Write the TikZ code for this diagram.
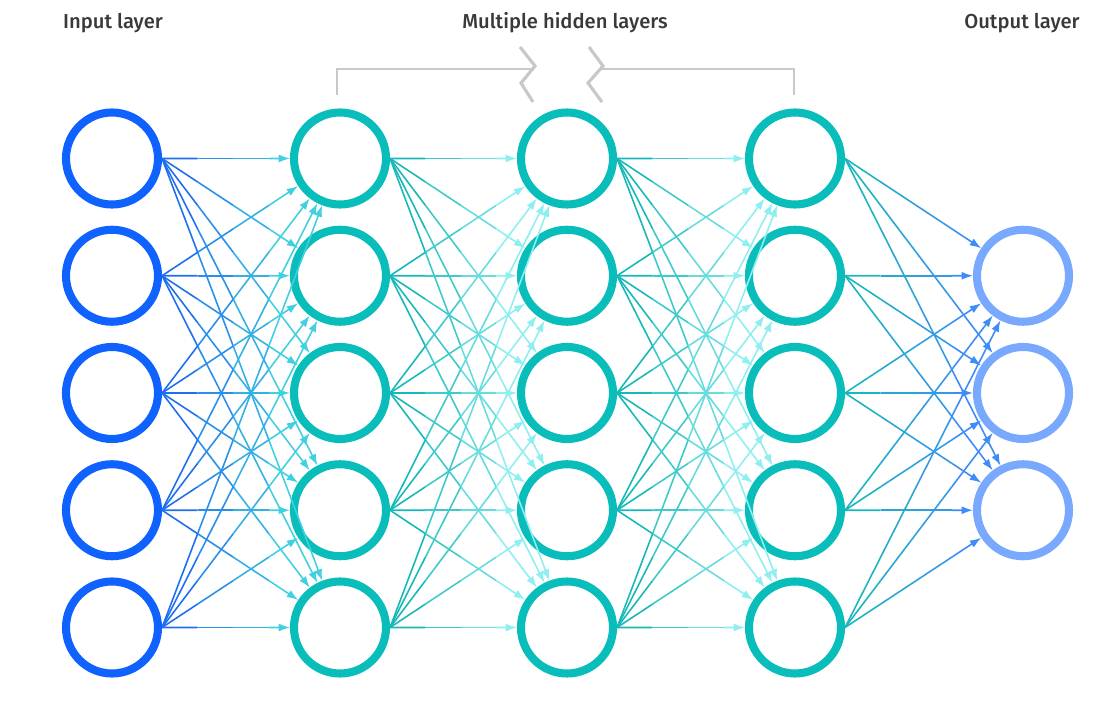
\documentclass[tikz,border=0pt]{standalone}
\usepackage{fontspec}
\setmainfont{Fira Sans}[UprightFont=* Medium]
\usetikzlibrary{arrows.meta,calc}

\definecolor{inblue}{HTML}{0F62FE}
\definecolor{hidteal}{HTML}{08BDBA}
\definecolor{outblue}{HTML}{78A9FF}
\definecolor{labelgray}{HTML}{393939}
\definecolor{bracketgray}{HTML}{C8C8C8}
\definecolor{inlinkA}{HTML}{1D6FF0}
\definecolor{inlinkB}{HTML}{40D0E0}
\definecolor{hidlinkA}{HTML}{16B8B8}
\definecolor{hidlinkB}{HTML}{8EEEF0}
\definecolor{outlinkA}{HTML}{1BB5BE}
\definecolor{outlinkB}{HTML}{3F8CF8}

% link from #1 to #2, shaded from #3 to #4 in four steps
\newcommand{\gradlink}[4]{%
    \draw[link, draw=#3] (#1.east) -- ($(#1.east)!0.2!(#2)$);
    \draw[link, draw=#3!67!#4] ($(#1.east)!0.2!(#2)$) -- ($(#1.east)!0.4!(#2)$);
    \draw[link, draw=#3!33!#4] ($(#1.east)!0.4!(#2)$) -- ($(#1.east)!0.6!(#2)$);
    \draw[tip, draw=#4, fill=#4] ($(#1.east)!0.6!(#2)$) -- (#2);
}

\begin{document}
\begin{tikzpicture}[
    neuron/.style={circle, draw, line width=4.6pt, minimum size=1.84cm, inner sep=0pt},
    inlayer/.style={neuron, draw=inblue},
    hidlayer/.style={neuron, draw=hidteal},
    outlayer/.style={neuron, draw=outblue},
    title/.style={font=\fontsize{11.5}{13}\selectfont, text=labelgray},
    link/.style={line width=0.9pt},
    tip/.style={link, -{Latex[length=6.5pt,width=4.6pt]}},
    bracket/.style={draw=bracketgray, line width=1.1pt},
    zigzag/.style={draw=bracketgray, line width=1.8pt}
]
\useasboundingbox (0,0) rectangle (22.36,-14.44);

% titles
\node[title] (intitle) at (2.26,-0.46) {Input layer};
\node[title] (hidtitle) at (11.3,-0.46) {Multiple hidden layers};
\node[title] (outtitle) at (20.44,-0.46) {Output layer};

% neurons
\foreach \i in {1,...,5} {
    \node[inlayer] (in\i) at (2.24,{-3.17-2.345*(\i-1)}) {};
    \node[hidlayer] (ha\i) at (6.8,{-3.17-2.345*(\i-1)}) {};
    \node[hidlayer] (hb\i) at (11.34,{-3.17-2.345*(\i-1)}) {};
    \node[hidlayer] (hc\i) at (15.9,{-3.17-2.345*(\i-1)}) {};
}
\foreach \i in {2,3,4} {
    \node[outlayer] (out\i) at (20.46,{-3.17-2.345*(\i-1)}) {};
}

% links
\foreach \i in {1,...,5} {
    \foreach \j in {1,...,5} {
        \gradlink{in\i}{ha\j}{inlinkA}{inlinkB}
        \gradlink{ha\i}{hb\j}{hidlinkA}{hidlinkB}
        \gradlink{hb\i}{hc\j}{hidlinkA}{hidlinkB}
    }
    \foreach \j in {2,3,4} {
        \gradlink{hc\i}{out\j}{outlinkA}{outlinkB}
    }
}

% bracket over the hidden layers
\draw[bracket] (6.74,-1.9) |- (10.68,-1.38);
\draw[zigzag] (10.4,-0.94) -- (10.7,-1.32) -- (10.42,-1.66) -- (10.66,-2.04);
\draw[zigzag] (11.78,-0.94) -- (12.06,-1.32) -- (11.76,-1.66) -- (12.04,-2.04);
\draw[bracket] (12.04,-1.38) -| (15.88,-1.9);
\end{tikzpicture}
\end{document}
